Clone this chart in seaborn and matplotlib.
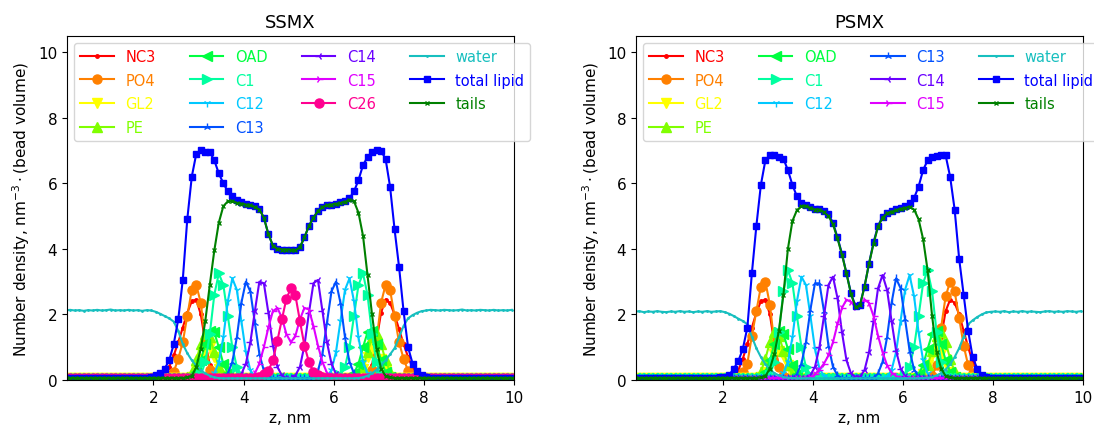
import numpy as np
import pandas as pd
import matplotlib
matplotlib.use("Agg")
import matplotlib.pyplot as plt
import seaborn as sns

# ---------------- data ----------------
Z = np.round(np.arange(0.05, 10.0, 0.1), 2)   # bin centres, nm
BASE = 0.06                                    # background level outside windows

# each profile: list of (start z, values) windows; elsewhere BASE
SS_NC3 = [(2.15, [0.12, 0.20, 0.40, 0.75, 1.15, 1.60, 2.05, 2.40, 2.45, 2.00, 1.15, 0.45, 0.18, 0.10]),
          (6.65, [0.10, 0.18, 0.45, 1.20, 2.05, 2.45, 2.35, 2.00, 1.55, 1.10, 0.70, 0.38, 0.20, 0.12])]
SS_PO4 = [(2.25, [0.10, 0.14, 0.25, 0.65, 1.15, 1.95, 2.75, 2.90, 2.35, 1.20, 0.30, 0.12]),
          (6.75, [0.12, 0.30, 1.20, 2.35, 2.90, 2.75, 1.95, 1.15, 0.65, 0.28, 0.14, 0.10])]
SS_GL2 = [(2.85, [0.10, 0.30, 0.65, 0.95, 1.00, 0.70, 0.35, 0.12]),
          (6.55, [0.12, 0.35, 0.70, 1.00, 0.95, 0.65, 0.30, 0.10])]
SS_PE = [(2.75, [0.10, 0.25, 0.60, 1.10, 1.40, 1.30, 0.85, 0.40, 0.15]),
         (6.55, [0.15, 0.40, 0.85, 1.30, 1.40, 1.10, 0.60, 0.25, 0.10])]
SS_OAD = [(2.85, [0.10, 0.25, 0.60, 1.10, 1.50, 1.45, 1.00, 0.50, 0.20]),
          (6.45, [0.20, 0.50, 1.00, 1.45, 1.50, 1.10, 0.60, 0.25, 0.10])]
SS_C1 = [(3.05, [0.15, 0.55, 1.40, 2.60, 3.25, 2.90, 1.95, 1.00, 0.40, 0.15]),
         (6.15, [0.15, 0.40, 1.00, 1.95, 2.90, 3.25, 2.60, 1.40, 0.55, 0.15])]
SS_C12 = [(3.35, [0.20, 0.55, 1.30, 2.40, 3.10, 2.75, 1.80, 0.85, 0.30, 0.10]),
          (5.85, [0.10, 0.30, 0.85, 1.80, 2.75, 3.10, 2.40, 1.30, 0.55, 0.20])]
SS_C13 = [(3.65, [0.20, 0.55, 1.30, 2.35, 3.00, 2.70, 1.75, 0.80, 0.28, 0.10]),
          (5.55, [0.10, 0.28, 0.80, 1.75, 2.70, 3.00, 2.35, 1.30, 0.55, 0.20])]
SS_C14 = [(3.85, [0.10, 0.18, 0.50, 1.15, 2.10, 3.00, 2.95, 2.05, 1.05, 0.40, 0.14]),
          (5.15, [0.14, 0.40, 1.05, 2.05, 2.95, 3.05, 2.10, 1.15, 0.50, 0.18, 0.10])]
SS_C15 = [(4.15, [0.08, 0.20, 0.50, 1.00, 1.60, 2.10, 2.20, 1.90, 1.40, 1.15, 1.35, 1.85,
                  2.20, 2.15, 1.65, 1.05, 0.55, 0.22, 0.08])]
SS_C26 = [(4.35, [0.10, 0.18, 0.28, 0.60, 1.20, 1.85, 2.48, 2.80, 2.58, 1.80, 1.05, 0.55,
                  0.25, 0.15, 0.10])]
SS_WATER = [(0.05, [2.12, 2.14, 2.12, 2.13, 2.11, 2.13, 2.12, 2.14, 2.12, 2.13,
                    2.15, 2.12, 2.13, 2.12, 2.14, 2.12, 2.13, 2.11, 2.13, 2.12,
                    2.08, 2.02, 1.95, 1.88, 1.78, 1.50, 1.10, 0.82, 0.60, 0.44,
                    0.30, 0.20, 0.13, 0.08, 0.06, 0.05, 0.05, 0.05, 0.05, 0.05,
                    0.05, 0.05, 0.05, 0.05, 0.05, 0.05, 0.05, 0.05, 0.05, 0.05,
                    0.05, 0.05, 0.05, 0.05, 0.05, 0.05, 0.05, 0.05, 0.05, 0.05,
                    0.05, 0.05, 0.05, 0.05, 0.05, 0.06, 0.08, 0.13, 0.20, 0.31,
                    0.45, 0.60, 0.78, 0.97, 1.30, 1.65, 1.88, 1.98, 2.05, 2.10,
                    2.12, 2.14, 2.13, 2.12, 2.14, 2.13, 2.12, 2.13, 2.15, 2.12,
                    2.13, 2.12, 2.14, 2.13, 2.12, 2.14, 2.12, 2.13, 2.12, 2.14])]
SS_LIPID = [(1.95, [0.10, 0.14, 0.20, 0.35, 0.60, 1.10, 1.85, 3.05, 4.90, 6.20,
                    6.90, 7.00, 6.95, 6.95, 6.70, 6.30, 6.00, 5.75, 5.60, 5.50,
                    5.42, 5.38, 5.35, 5.30, 5.22, 4.95, 4.45, 4.10, 4.00, 3.98,
                    3.98, 3.97, 3.95, 4.05, 4.35, 4.70, 4.95, 5.15, 5.28, 5.33,
                    5.35, 5.38, 5.42, 5.45, 5.55, 5.75, 6.10, 6.55, 6.80, 6.95,
                    7.00, 6.98, 6.75, 5.90, 4.60, 3.45, 2.10, 1.00, 0.50, 0.28,
                    0.15, 0.10])]
SS_TAILS = [(2.75, [0.08, 0.12, 0.40, 0.95, 1.80, 2.90, 3.95, 4.80, 5.30, 5.45,
                    5.45, 5.40, 5.38, 5.35, 5.33, 5.28, 5.20, 4.95, 4.45, 4.10,
                    4.00, 3.98, 3.98, 3.97, 3.95, 4.05, 4.35, 4.70, 4.95, 5.15,
                    5.28, 5.33, 5.35, 5.37, 5.40, 5.43, 5.50, 5.45, 5.10, 4.40,
                    3.20, 2.00, 0.95, 0.35, 0.12, 0.08])]

PS_NC3 = [(2.25, [0.12, 0.30, 0.65, 1.10, 1.60, 2.05, 2.40, 2.45, 2.00, 1.10, 0.40, 0.15]),
          (6.65, [0.15, 0.45, 1.30, 2.10, 2.45, 2.35, 2.00, 1.50, 1.00, 0.55, 0.25, 0.10])]
PS_PO4 = [(2.35, [0.10, 0.25, 0.50, 1.35, 2.10, 2.85, 3.00, 2.30, 1.10, 0.40, 0.12]),
          (6.65, [0.12, 0.45, 1.60, 2.55, 3.00, 2.70, 1.90, 1.05, 0.45, 0.20, 0.10])]
PS_GL2 = [(2.85, [0.10, 0.25, 0.50, 0.80, 0.90, 0.75, 0.45, 0.18]),
          (6.45, [0.18, 0.45, 0.75, 0.90, 0.80, 0.50, 0.25, 0.10])]
PS_PE = [(2.75, [0.10, 0.25, 0.65, 1.15, 1.45, 1.35, 0.90, 0.45, 0.15]),
         (6.45, [0.15, 0.45, 0.90, 1.35, 1.45, 1.15, 0.65, 0.25, 0.10])]
PS_OAD = [(2.85, [0.10, 0.25, 0.60, 1.10, 1.50, 1.40, 0.95, 0.45, 0.18]),
          (6.35, [0.18, 0.45, 0.95, 1.40, 1.50, 1.10, 0.60, 0.25, 0.10])]
PS_C1 = [(3.05, [0.15, 0.55, 1.45, 2.70, 3.35, 2.95, 1.95, 1.00, 0.40, 0.15]),
         (6.05, [0.15, 0.40, 1.00, 1.95, 2.95, 3.35, 2.70, 1.45, 0.55, 0.15])]
PS_C12 = [(3.35, [0.20, 0.55, 1.30, 2.40, 3.15, 2.90, 1.95, 0.95, 0.35, 0.12]),
          (5.65, [0.10, 0.30, 0.85, 1.80, 2.75, 3.20, 2.55, 1.45, 0.60, 0.20])]
PS_C13 = [(3.65, [0.18, 0.50, 1.15, 2.15, 2.95, 2.95, 2.10, 1.05, 0.40, 0.14]),
          (5.45, [0.20, 0.55, 1.30, 2.35, 3.10, 2.80, 1.85, 0.90, 0.32, 0.10])]
PS_C14 = [(3.95, [0.15, 0.40, 1.00, 1.95, 2.90, 3.15, 2.50, 1.45, 0.60, 0.20, 0.10,
                  0.10, 0.30, 0.85, 1.80, 2.80, 3.20, 2.75, 1.80, 0.90, 0.35, 0.12])]
PS_C15 = [(3.95, [0.08, 0.18, 0.32, 0.50, 0.75, 1.15, 1.70, 2.20, 2.45, 2.38, 2.22,
                  2.30, 2.45, 2.35, 1.95, 1.35, 0.85, 0.45, 0.22, 0.12])]
PS_WATER = [(0.05, [2.08, 2.10, 2.07, 2.09, 2.08, 2.10, 2.08, 2.07, 2.09, 2.08,
                    2.10, 2.08, 2.09, 2.07, 2.09, 2.08, 2.10, 2.08, 2.09, 2.10,
                    2.07, 2.02, 1.95, 1.87, 1.80, 1.70, 1.32, 0.97, 0.70, 0.48,
                    0.32, 0.21, 0.14, 0.09, 0.07, 0.06, 0.05, 0.05, 0.05, 0.05,
                    0.05, 0.05, 0.05, 0.05, 0.05, 0.05, 0.05, 0.05, 0.05, 0.05,
                    0.05, 0.05, 0.05, 0.05, 0.05, 0.05, 0.05, 0.05, 0.05, 0.05,
                    0.05, 0.05, 0.05, 0.05, 0.06, 0.07, 0.09, 0.14, 0.21, 0.32,
                    0.48, 0.70, 0.97, 1.32, 1.70, 1.82, 1.92, 2.00, 2.06, 2.08,
                    2.09, 2.08, 2.10, 2.07, 2.09, 2.08, 2.10, 2.08, 2.09, 2.08,
                    2.07, 2.09, 2.10, 2.08, 2.09, 2.08, 2.10, 2.09, 2.08, 2.10])]
PS_LIPID = [(1.95, [0.08, 0.10, 0.16, 0.35, 0.58, 0.95, 1.60, 3.25, 4.70, 5.95,
                    6.70, 6.85, 6.85, 6.80, 6.75, 6.40, 5.95, 5.60, 5.40, 5.35,
                    5.28, 5.22, 5.22, 5.15, 5.05, 4.80, 4.35, 3.85, 3.25, 2.65,
                    2.25, 2.30, 2.85, 3.55, 4.20, 4.70, 4.98, 5.10, 5.15, 5.22,
                    5.25, 5.30, 5.40, 5.55, 5.90, 6.40, 6.70, 6.80, 6.82, 6.85,
                    6.85, 6.20, 5.20, 3.70, 2.60, 1.50, 0.70, 0.35, 0.15, 0.08])]
PS_TAILS = [(2.85, [0.08, 0.12, 0.35, 0.80, 1.50, 2.60, 4.00, 4.85, 5.18, 5.30,
                    5.30, 5.25, 5.20, 5.20, 5.12, 5.00, 4.75, 4.32, 3.82, 3.25,
                    2.62, 2.22, 2.28, 2.85, 3.55, 4.15, 4.68, 4.95, 5.08, 5.13,
                    5.18, 5.22, 5.25, 5.28, 5.20, 4.90, 4.30, 3.35, 1.95, 0.85,
                    0.35, 0.12, 0.08])]

SSMX = [("NC3", SS_NC3), ("PO4", SS_PO4), ("GL2", SS_GL2), ("PE", SS_PE),
        ("OAD", SS_OAD), ("C1", SS_C1), ("C12", SS_C12), ("C13", SS_C13),
        ("C14", SS_C14), ("C15", SS_C15), ("C26", SS_C26),
        ("water", SS_WATER), ("total lipid", SS_LIPID), ("tails", SS_TAILS)]
PSMX = [("NC3", PS_NC3), ("PO4", PS_PO4), ("GL2", PS_GL2), ("PE", PS_PE),
        ("OAD", PS_OAD), ("C1", PS_C1), ("C12", PS_C12), ("C13", PS_C13),
        ("C14", PS_C14), ("C15", PS_C15),
        ("water", PS_WATER), ("total lipid", PS_LIPID), ("tails", PS_TAILS)]

# ---------------- style ----------------
STYLE = {
    "NC3":         ("#ff0000", ".", 5, 1.0),
    "PO4":         ("#ff8000", "o", 6.5, 1.0),
    "GL2":         ("#ffff00", "v", 6.5, 1.0),
    "PE":          ("#80ff00", "^", 6.5, 1.0),
    "OAD":         ("#00ff40", "<", 6.5, 1.0),
    "C1":          ("#00ffa0", ">", 6.5, 1.0),
    "C12":         ("#00c8ff", "1", 6, 1.0),
    "C13":         ("#0050ff", "2", 6, 1.0),
    "C14":         ("#6a00ff", "3", 6, 1.0),
    "C15":         ("#e000ff", "4", 6, 1.0),
    "C26":         ("#ff0090", "o", 6.5, 1.0),
    "water":       ("#17bfbf", ".", 2, 1.0),
    "total lipid": ("#0000ff", "s", 4, 1.0),
    "tails":       ("#008000", "x", 3, 1.0),
}


def profile(segments):
    y = np.full(len(Z), BASE)
    for start, vals in segments:
        i0 = int(round((start - Z[0]) / 0.1))
        y[i0:i0 + len(vals)] = vals
    return y


fig = plt.figure(figsize=(10.94, 4.27), dpi=100)
axes = [fig.add_axes([0.0612, 0.1077, 0.4086, 0.8063]),
        fig.add_axes([0.5814, 0.1077, 0.4086, 0.8063])]

for ax, title, series in zip(axes, ["SSMX", "PSMX"], [SSMX, PSMX]):
    for name, segs in series:
        color, marker, ms, mew = STYLE[name]
        df = pd.DataFrame({"z": Z, "density": profile(segs)})
        sns.lineplot(data=df, x="z", y="density", ax=ax, color=color,
                     marker=marker, markersize=ms, markeredgecolor=color,
                     markerfacecolor=color, markeredgewidth=mew,
                     linewidth=1.5, label=name, estimator=None, sort=False,
                     legend=False)
    ax.set_xlim(0.08, 10.0)
    ax.set_ylim(0, 10.5)
    ax.set_xticks([2, 4, 6, 8, 10])
    ax.set_yticks([0, 2, 4, 6, 8, 10])
    ax.tick_params(labelsize=11)
    ax.set_title(title, fontsize=13)
    ax.set_xlabel("z, nm", fontsize=11)
    ax.set_ylabel(r"Number density, nm$^{-3}\cdot$(bead volume)", fontsize=11)
    ax.legend(loc="upper left", ncol=4, fontsize=10.5, labelcolor="linecolor",
              handlelength=2.3, columnspacing=2.35, labelspacing=0.6)

fig.savefig("out.png", dpi=100)
